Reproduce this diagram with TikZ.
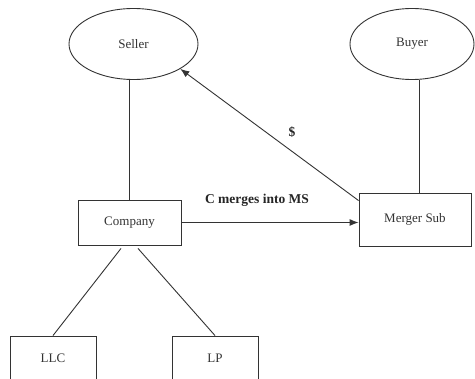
\documentclass[tikz,border=0pt]{standalone}
\usepackage{fontspec}
\setmainfont{Liberation Serif}
\usetikzlibrary{arrows.meta,shapes.geometric}
\begin{document}
\begin{tikzpicture}[x=1pt,y=-1pt,
  ink/.style={black!80},
  party/.style={ellipse,draw=black!80,line width=0.9pt,inner sep=0pt,font=\fontsize{13}{15}\selectfont,text=black!80},
  entity/.style={rectangle,draw=black!80,line width=0.9pt,inner sep=0pt,font=\fontsize{13}{15}\selectfont,text=black!80},
  link/.style={draw=black!80,line width=0.9pt},
  flow/.style={link,-{Latex[length=9pt,width=7pt]}},
  tag/.style={font=\bfseries\fontsize{13.5}{15}\selectfont,text=black!85}]
\clip (0,0) rectangle (475,379);
\fill[white] (0,0) rectangle (475,379);

% shareholders
\node[party,minimum width=129pt,minimum height=71pt] (seller) at (133.5,44) {Seller};
\node[party,minimum width=124pt,minimum height=71pt] (buyer) at (412,44) {Buyer};

% corporate entities
\node[entity,minimum width=103pt,minimum height=45pt] (company) at (129.5,222.5) {Company};
\node[entity,minimum width=112pt,minimum height=53pt] (msub) at (415,219.5) {Merger Sub};
\node[entity,minimum width=86pt,minimum height=44pt] (llc) at (53,358) {LLC};
\node[entity,minimum width=86pt,minimum height=44pt] (lp) at (215,358) {LP};

% ownership lines
\draw[link] (company.north) -- (company.north |- seller.south);
\draw[link] ([xshift=4pt]msub.north) -- ([xshift=4pt]msub.north |- buyer.south);
\draw[link] ([xshift=-8.5pt,yshift=-3pt]company.south) -- (llc.north);
\draw[link] ([xshift=8.5pt,yshift=-3pt]company.south) -- (lp.north);

% merger and consideration
\draw[flow] (company.east) -- (company.east -| msub.west);
\draw[flow] ([yshift=-8pt]msub.north west) -- (seller.-28);

\node[tag] (merge) at (257,200) {C merges into MS};
\node[tag] (cash) at (292,132) {\$};
\end{tikzpicture}
\end{document}
